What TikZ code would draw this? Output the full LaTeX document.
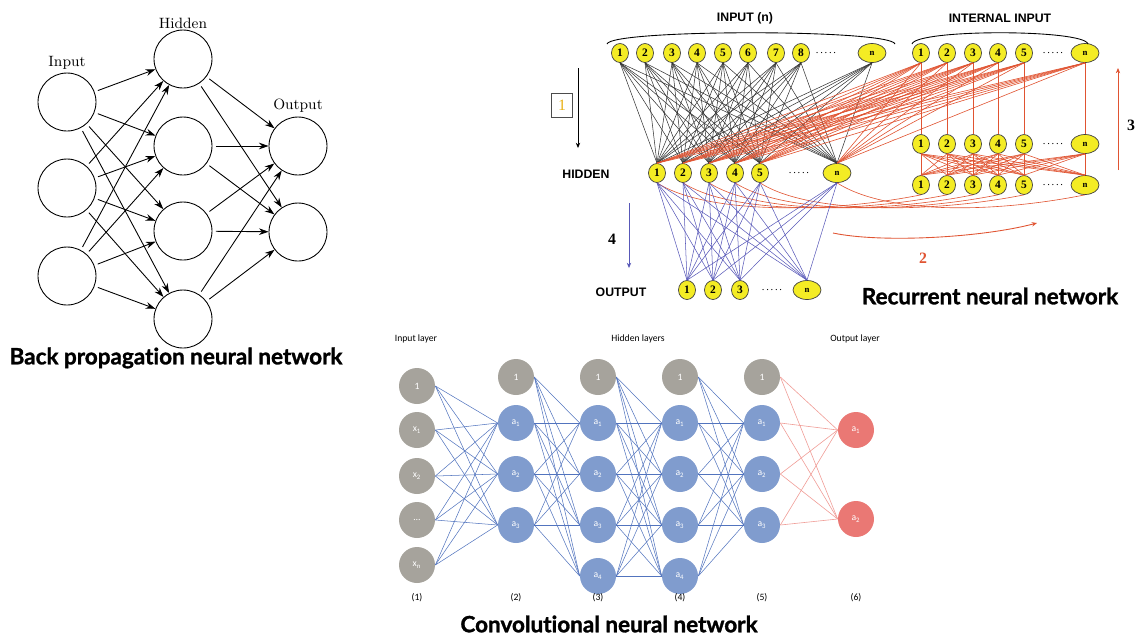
\documentclass[tikz,border=0pt]{standalone}
\usepackage{fontspec}
\usetikzlibrary{arrows.meta,shapes.geometric}
\newfontfamily\titlefont{Lato}[Ligatures=NoCommon, BoldFeatures={FakeBold=1.3}]
\newfontfamily\capsfont{Liberation Sans}
\newfontfamily\timesfont{Liberation Serif}
\newfontfamily\cnnfont{Carlito}
\definecolor{rnnyellow}{RGB}{244,236,36}
\definecolor{rnnred}{RGB}{224,84,50}
\definecolor{rnnblue}{RGB}{88,88,184}
\definecolor{rnngold}{RGB}{232,176,20}
\definecolor{cnngray}{RGB}{166,163,156}
\definecolor{cnnblue}{RGB}{128,156,206}
\definecolor{cnnred}{RGB}{234,120,116}
\definecolor{cnnline}{RGB}{82,116,190}
\definecolor{cnnpink}{RGB}{240,158,152}

\begin{document}
\begin{tikzpicture}[x=0.02cm, y=-0.02cm,
    bpnode/.style={circle, draw, minimum size=1.16cm, inner sep=0pt, line width=0.5pt},
    bparrow/.style={-{Stealth[length=5.5pt,width=3.8pt]}, line width=0.5pt, shorten <=2pt},
    bplabel/.style={font=\fontsize{8.5}{9}\selectfont},
    title/.style={font=\titlefont\bfseries\fontsize{12.8}{14}\selectfont, inner sep=1pt},
    rnode/.style={ellipse, draw=black!75, line width=0.4pt, fill=rnnyellow, minimum width=0.34cm, minimum height=0.38cm, inner sep=0pt, font=\timesfont\bfseries\fontsize{6.5}{7}\selectfont},
    rwide/.style={rnode, minimum width=0.56cm, font=\timesfont\bfseries\fontsize{5}{6}\selectfont},
    rdots/.style={inner sep=0pt, font=\timesfont\fontsize{6}{7}\selectfont},
    rhead/.style={font=\capsfont\bfseries\fontsize{7}{8}\selectfont},
    rstep/.style={font=\timesfont\bfseries\fontsize{9}{10}\selectfont},
    blackline/.style={black!80, line width=0.3pt},
    redline/.style={rnnred, line width=0.35pt},
    blueline/.style={rnnblue, line width=0.3pt},
    cnode/.style={circle, minimum size=0.72cm, inner sep=0pt, text=white, font=\cnnfont\fontsize{5.5}{6}\selectfont},
    clabel/.style={font=\cnnfont\fontsize{5.5}{6}\selectfont},
    cnnedge/.style={cnnline, line width=0.3pt},
    cnnout/.style={cnnpink, line width=0.35pt}]

    \useasboundingbox (0,0) rectangle (1137,637);

    % back propagation
    \node[bpnode] (bi1) at (67,102) {};
    \node[bpnode] (bi2) at (67,188) {};
    \node[bpnode] (bi3) at (67,276) {};
    \node[bpnode] (bh1) at (183,59) {};
    \node[bpnode] (bh2) at (183,146) {};
    \node[bpnode] (bh3) at (183,231) {};
    \node[bpnode] (bh4) at (183,319) {};
    \node[bpnode] (bo1) at (298,146) {};
    \node[bpnode] (bo2) at (298,232) {};

    \foreach \s in {1,2,3}
        \foreach \d in {1,...,4}
            \draw[bparrow] (bi\s) -- (bh\d);
    \foreach \s in {1,...,4}
        \foreach \d in {1,2}
            \draw[bparrow] (bh\s) -- (bo\d);

    \node[bplabel] (lbi) at (67,63) {Input};
    \node[bplabel] (lbh) at (183,23) {Hidden};
    \node[bplabel] (lbo) at (298,106) {Output};
    \node[title] (tbp) at (176,358) {Back propagation neural network};

    % recurrent
    \foreach \x [count=\k] in {620,645,672,697,723,748,776,801}
        \node[rnode] (in\k) at (\x,53) {\k};
    \node[rwide] (in9) at (872,53) {n};
    \node[rdots] (in0) at (826,53) {.\,.\,.\,.\,.};

    \foreach \x [count=\k] in {657,683,709,735,760}
        \node[rnode] (hd\k) at (\x,173) {\k};
    \node[rwide] (hd6) at (837,173) {n};
    \node[rdots] (hd0) at (799,173) {.\,.\,.\,.\,.};

    \foreach \r/\y in {ti/53, mi/144, rb/185} {
        \foreach \x [count=\k] in {921,947,973,998,1024}
            \node[rnode] (\r\k) at (\x,\y) {\k};
        \node[rwide] (\r6) at (1085,\y) {n};
        \node[rdots] (\r0) at (1053,\y) {.\,.\,.\,.\,.};
    }

    \foreach \x [count=\k] in {687,713,740}
        \node[rnode] (ou\k) at (\x,290) {\k};
    \node[rwide] (ou4) at (807,290) {n};
    \node[rdots] (ou0) at (772,290) {.\,.\,.\,.\,.};

    \foreach \s in {1,...,9}
        \foreach \d in {1,...,6}
            \draw[blackline] (in\s.south) -- (hd\d.north);
    \foreach \s in {1,...,6} {
        \foreach \d in {1,...,6}
            \draw[redline] (ti\s.south) -- (hd\d.north);
        \draw[redline] (ti\s) -- (mi\s);
        \foreach \d in {1,...,6}
            \draw[redline] (mi\s.south) -- (rb\d.north);
        \draw[redline] (hd\s.south) .. controls +(50,32) and +(-90,18) .. (rb\s.south);
        \foreach \d in {1,...,4}
            \draw[blueline] (hd\s.south) -- (ou\d.north);
    }

    \draw[line width=0.5pt] (607,44) .. controls (611,29) and (891,29) .. (895,44);
    \draw[line width=0.5pt] (912,44) .. controls (916,29) and (1084,29) .. (1088,44);

    \node[rhead] (lbin) at (745,18) {INPUT (n)};
    \node[rhead] (lbint) at (1000,18) {INTERNAL INPUT};
    \node[rhead] (lbhd) at (586,174) {HIDDEN};
    \node[rhead] (lbou) at (621,292) {OUTPUT};

    \node[draw=black!70, line width=0.4pt, minimum width=0.42cm, minimum height=0.48cm, inner sep=0pt,
          text=rnngold, font=\timesfont\fontsize{9}{10}\selectfont] (st1) at (562,105) {1};
    \coordinate (a1s) at (578,68);
    \coordinate (a1e) at (578,148);
    \draw[-{Stealth[length=3pt,width=2.5pt]}, line width=0.4pt] (a1s) -- (a1e);

    \node[rstep] (st4) at (612,239) {4};
    \coordinate (a4s) at (629,203);
    \coordinate (a4e) at (629,268);
    \draw[rnnblue, -{Stealth[length=3pt,width=2.5pt]}, line width=0.4pt] (a4s) -- (a4e);

    \node[rstep] (st3) at (1131,125) {3};
    \coordinate (a3s) at (1118,170);
    \coordinate (a3e) at (1118,68);
    \draw[rnnred, -{Stealth[length=3pt,width=2.5pt]}, line width=0.4pt] (a3s) -- (a3e);

    \node[rstep, text=rnnred] (st2) at (923,258) {2};
    \coordinate (a2s) at (833,233);
    \coordinate (a2e) at (1037,223);
    \draw[rnnred, -{Stealth[length=3pt,width=2.5pt]}, line width=0.5pt] (a2s) .. controls (880,243) and (980,238) .. (a2e);

    \node[title] (trnn) at (990,296) {Recurrent neural network};

    % convolutional
    \foreach \y/\t [count=\k from 0] in {386/1, 430/x\textsubscript{1}, 476/x\textsubscript{2}, 520/\ldots, 565/x\textsubscript{n}}
        \node[cnode, fill=cnngray] (c1-\k) at (417,\y) {\t};
    \foreach \c/\x/\n in {2/516/3, 3/598/4, 4/680/4, 5/762/3} {
        \node[cnode, fill=cnngray] (c\c-0) at (\x,377) {1};
        \foreach \k in {1,...,\n}
            \node[cnode, fill=cnnblue] (c\c-\k) at (\x,372+51*\k) {a\textsubscript{\k}};
    }
    \node[cnode, fill=cnnred] (c6-1) at (856,430) {a\textsubscript{1}};
    \node[cnode, fill=cnnred] (c6-2) at (856,519) {a\textsubscript{2}};

    \foreach \a/\b/\m/\n in {1/2/4/3, 2/3/3/4, 3/4/4/4, 4/5/4/3}
        \foreach \s in {0,...,\m}
            \foreach \d in {1,...,\n}
                \draw[cnnedge] (c\a-\s.east) -- (c\b-\d.west);
    \foreach \s in {0,...,3}
        \foreach \d in {1,2}
            \draw[cnnout] (c5-\s.east) -- (c6-\d.west);

    \foreach \x [count=\k] in {417,516,598,680,762,856}
        \node[clabel] (cl\k) at (\x,598) {(\k)};
    \node[clabel] (clin) at (416,339) {Input layer};
    \node[clabel] (clhd) at (638,339) {Hidden layers};
    \node[clabel] (clou) at (855,339) {Output layer};
    \node[title] (tcnn) at (609,624) {Convolutional neural network};
\end{tikzpicture}
\end{document}
